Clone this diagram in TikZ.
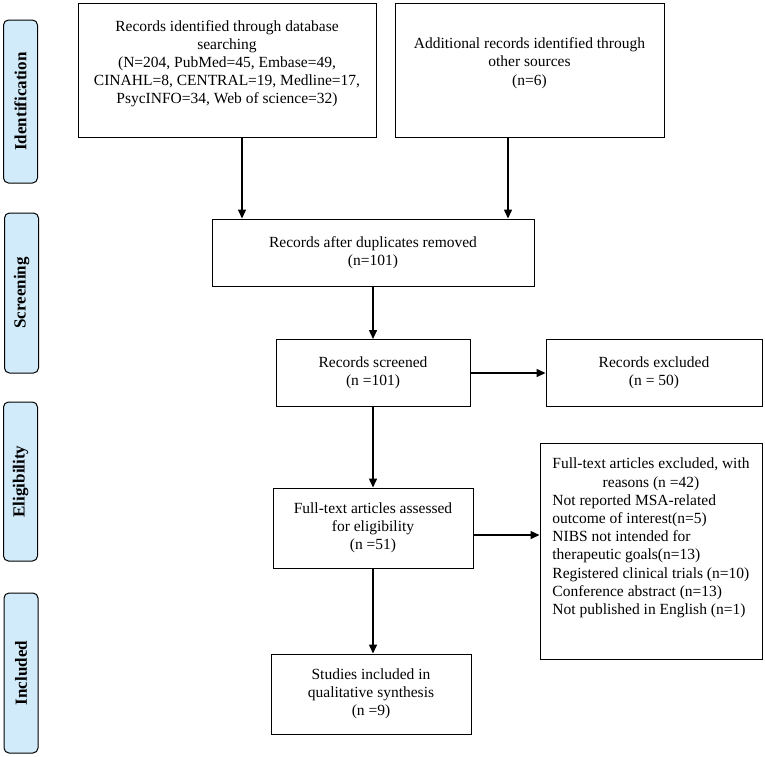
\documentclass[tikz,border=0pt]{standalone}
\usepackage{fontspec}
\setmainfont{Liberation Serif}
\usetikzlibrary{arrows.meta}
\definecolor{stagefill}{HTML}{D2EBFA}
\begin{document}
\begin{tikzpicture}[x=1pt,y=-1pt,
  box/.style={draw=black,line width=1pt,inner sep=0pt,font=\fontsize{15.5}{18.2}\selectfont,align=center},
  txt/.style={font=\fontsize{15.5}{18.2}\selectfont,align=center,inner sep=0pt},
  stage/.style={draw=black,line width=1pt,fill=stagefill,rounded corners=5pt,rotate=90,minimum height=34pt,inner sep=0pt,font=\fontsize{17}{20}\selectfont\bfseries},
  arr/.style={line width=1.5pt,-{Triangle[length=9pt,width=8pt]}}]
\useasboundingbox (0,0) rectangle (765,756);
\fill[white] (0,0) rectangle (765,756);

% stage labels
\node[stage,minimum width=163pt] (s1) at (20.5,101.5) {Identification};
\node[stage,minimum width=160pt] (s2) at (21.5,293) {Screening};
\node[stage,minimum width=159pt] (s3) at (20.5,481.5) {Eligibility};
\node[stage,minimum width=160pt] (s4) at (21,673) {Included};

% boxes
\node[box,minimum width=298pt,minimum height=134pt] (b1) at (227,70) {};
\node[txt,anchor=north] (t1) at (227,20) {Records identified through database\\searching\\(N=204, PubMed=45, Embase=49,\\CINAHL=8, CENTRAL=19, Medline=17,\\PsycINFO=34, Web of science=32)};

\node[box,minimum width=269pt,minimum height=134pt] (b2) at (529.5,70) {};
\node[txt,anchor=north] (t2) at (529.5,37.5) {Additional records identified through\\other sources\\(n=6)};

\node[box,minimum width=322pt,minimum height=67pt] (b3) at (373,252.5) {Records after duplicates removed\\(n=101)};
\node[box,minimum width=194pt,minimum height=67pt] (b4) at (373,373) {Records screened\\(n =101)};
\node[box,minimum width=216pt,minimum height=67pt] (b5) at (654,373) {Records excluded\\(n = 50)};
\node[box,minimum width=200pt,minimum height=80pt] (b6) at (373,528) {Full-text articles assessed\\for eligibility\\(n =51)};
\node[box,minimum width=222pt,minimum height=216pt] (b7) at (651,551) {};
\node[txt,anchor=north] (t7) at (651,456) {\begin{tabular}{@{}l@{}}
\multicolumn{1}{@{}c@{}}{Full-text articles excluded, with}\\
\multicolumn{1}{@{}c@{}}{reasons (n =42)}\\
Not reported MSA-related\\
outcome of interest(n=5)\\
NIBS not intended for\\
therapeutic goals(n=13)\\
Registered clinical trials (n=10)\\
Conference abstract (n=13)\\
Not published in English (n=1)
\end{tabular}};
\node[box,minimum width=200pt,minimum height=80pt] (b8) at (371,694) {Studies included in\\qualitative synthesis\\(n =9)};

% connectors
\draw[arr] ([xshift=15pt]b1.south) -- ([xshift=15pt]b1.south |- b3.north);
\draw[arr] ([xshift=-21.5pt]b2.south) -- ([xshift=-21.5pt]b2.south |- b3.north);
\draw[arr] (b3.south) -- (b4.north);
\draw[arr] (b4.east) -- (b5.west);
\draw[arr] (b4.south) -- (b6.north);
\draw[arr] ([yshift=-7pt]b6.east) -- ([yshift=-7pt]b6.east -| b7.west);
\draw[arr] (b6.south) -- (b6.south |- b8.north);
\end{tikzpicture}
\end{document}
